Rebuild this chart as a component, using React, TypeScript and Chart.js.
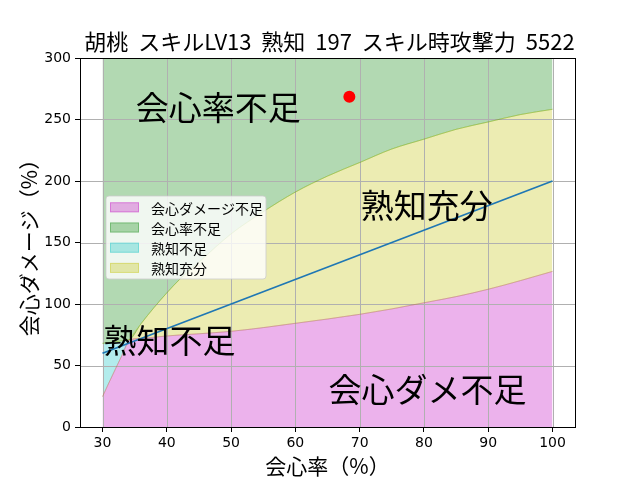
import React, { useEffect, useRef } from "react";
import { Chart, registerables } from "chart.js";

Chart.register(...registerables);

// ---- data ----
const titleText = "胡桃 スキルLV13 熟知 197 スキル時攻撃力 5522";
const xAxisLabel = "会心率（%）";
const yAxisLabel = "会心ダメージ（%）";

const xTicks = [30, 40, 50, 60, 70, 80, 90, 100];
const yTicks = [0, 50, 100, 150, 200, 250, 300];

const critRateSamples = [30, 31, 32, 33, 34.2, 36, 38, 40, 42, 45, 50, 55, 60, 65, 70, 75, 80, 85, 90, 95, 100];
// upper boundary (above: 会心率不足)
const critRateCurve = [24.7, 36, 47, 58, 71, 84, 97, 109, 120, 134, 157, 175, 191, 204, 215, 226, 234, 242, 248, 254, 258.3];
// lower boundary (below: 会心ダメージ不足)
const critDmgCurve = [68, 68.7, 69.3, 70, 71, 72, 73, 74, 74.8, 75.8, 77.8, 80.8, 84.3, 87.8, 91.6, 96, 101, 106, 112, 119, 126.5];

const ratioLineX = [30, 100];
const ratioLineY = [60, 200];

const currentX = [68.4];
const currentY = [268.5];

const legendLabels = ["会心ダメージ不足", "会心率不足", "熟知不足", "熟知充分"];

const regionLabels = ["会心率不足", "熟知充分", "熟知不足", "会心ダメ不足"];
const regionLabelX = [35, 70, 30, 65];
const regionLabelY = [250, 170, 60, 20];

// ---- styles ----
const PINK = "rgba(191,0,191,0.3)";
const GREEN = "rgba(0,128,0,0.3)";
const CYAN = "rgba(0,191,191,0.3)";
const YELLOW = "rgba(191,191,0,0.3)";
const legendColors = [PINK, GREEN, CYAN, YELLOW];
const CJK = '"Noto Sans CJK JP", "Noto Sans CJK SC", sans-serif';

const pts = (xs: number[], ys: number[]) => xs.map((x, i) => ({ x, y: ys[i] }));

export default function App() {
  const ref = useRef<HTMLCanvasElement | null>(null);

  useEffect(() => {
    if (!ref.current) return;
    const lo = critRateCurve.map((a, i) => Math.min(a, critDmgCurve[i]));
    const hi = critRateCurve.map((a, i) => Math.max(a, critDmgCurve[i]));

    const curveCommon = {
      pointRadius: 0,
      borderWidth: 1,
      cubicInterpolationMode: "monotone" as const,
    };

    const deco = {
      id: "deco",
      beforeDatasetsDraw(chart: any) {
        const { ctx, chartArea: a, scales } = chart;
        ctx.save();
        ctx.strokeStyle = "#b0b0b0";
        ctx.lineWidth = 1;
        ctx.beginPath();
        xTicks.forEach((v) => {
          const px = Math.round(scales.x.getPixelForValue(v)) + 0.5;
          ctx.moveTo(px, a.top);
          ctx.lineTo(px, a.bottom);
        });
        yTicks.forEach((v) => {
          const py = Math.round(scales.y.getPixelForValue(v)) + 0.5;
          ctx.moveTo(a.left, py);
          ctx.lineTo(a.right, py);
        });
        ctx.stroke();
        ctx.restore();
      },
      afterDatasetsDraw(chart: any) {
        const { ctx, chartArea: a, scales } = chart;
        ctx.save();
        // region labels
        ctx.fillStyle = "#000";
        ctx.font = `33px ${CJK}`;
        ctx.textAlign = "left";
        ctx.textBaseline = "alphabetic";
        regionLabels.forEach((t, i) => {
          ctx.fillText(t, scales.x.getPixelForValue(regionLabelX[i]) + 1, scales.y.getPixelForValue(regionLabelY[i]));
        });
        // legend
        const lx = 106, ly = 196, lw = 160, lh = 83, r = 3;
        ctx.beginPath();
        ctx.moveTo(lx + r, ly);
        ctx.arcTo(lx + lw, ly, lx + lw, ly + lh, r);
        ctx.arcTo(lx + lw, ly + lh, lx, ly + lh, r);
        ctx.arcTo(lx, ly + lh, lx, ly, r);
        ctx.arcTo(lx, ly, lx + lw, ly, r);
        ctx.closePath();
        ctx.fillStyle = "rgba(255,255,255,0.8)";
        ctx.fill();
        ctx.strokeStyle = "rgba(204,204,204,0.8)";
        ctx.lineWidth = 1;
        ctx.stroke();
        ctx.font = `14px ${CJK}`;
        ctx.textBaseline = "middle";
        legendLabels.forEach((t, i) => {
          const cy = 207.3 + i * 20.2;
          ctx.fillStyle = legendColors[i];
          ctx.fillRect(110, cy - 5, 29, 10);
          ctx.strokeStyle = legendColors[i];
          ctx.strokeRect(110.5, cy - 4.5, 28, 9);
          ctx.fillStyle = "#000";
          ctx.fillText(t, 151, cy + 1);
        });
        // frame
        ctx.strokeStyle = "#000";
        ctx.lineWidth = 1;
        ctx.strokeRect(Math.round(a.left) + 0.5, Math.round(a.top) + 0.5, Math.round(a.right - a.left), Math.round(a.bottom - a.top));
        ctx.restore();
      },
      afterDraw(chart: any) {
        const { ctx, chartArea: a } = chart;
        const cx = (a.left + a.right) / 2;
        ctx.save();
        ctx.fillStyle = "#000";
        ctx.textAlign = "center";
        ctx.textBaseline = "alphabetic";
        ctx.font = `22px ${CJK}`;
        (ctx as any).wordSpacing = "5px";
        ctx.fillText(titleText, cx + 2, 50);
        (ctx as any).wordSpacing = "0px";
        ctx.font = `21px ${CJK}`;
        ctx.fillText(xAxisLabel, cx, 474);
        ctx.translate(37, (a.top + a.bottom) / 2);
        ctx.rotate(-Math.PI / 2);
        ctx.fillText(yAxisLabel, 0, 0);
        ctx.restore();
      },
    };

    const chart = new Chart(ref.current, {
      type: "line",
      data: {
        datasets: [
          { label: legendLabels[0], data: pts(critRateSamples, lo), fill: "origin", backgroundColor: PINK, borderColor: PINK, order: 5, ...curveCommon },
          { label: legendLabels[1], data: pts(critRateSamples, hi), fill: "end", backgroundColor: GREEN, borderColor: GREEN, order: 4, ...curveCommon },
          { label: "lower", data: pts(critRateSamples, critDmgCurve), fill: false, borderColor: YELLOW, order: 3, ...curveCommon },
          { label: "upper", data: pts(critRateSamples, critRateCurve), fill: { target: 2, above: YELLOW, below: CYAN }, borderColor: YELLOW, order: 2, ...curveCommon },
          { label: "ratio", data: pts(ratioLineX, ratioLineY), fill: false, borderColor: "#1f77b4", borderWidth: 1.7, pointRadius: 0, order: 1 },
          { label: "current", type: "scatter", data: pts(currentX, currentY), backgroundColor: "#ff0000", borderColor: "#ff0000", pointRadius: 6, borderWidth: 0, order: 0 } as any,
        ],
      },
      options: {
        animation: false,
        responsive: false,
        devicePixelRatio: 1,
        layout: { padding: { left: 0, right: 65, top: 58, bottom: 0 } },
        plugins: {
          legend: { display: false },
          title: { display: false },
          tooltip: { enabled: false },
          filler: { propagate: false, drawTime: "beforeDatasetsDraw" } as any,
        },
        scales: {
          x: {
            type: "linear",
            min: 26.5,
            max: 103.5,
            afterBuildTicks: (s: any) => { s.ticks = xTicks.map((v) => ({ value: v })); },
            afterFit: (s: any) => { s.height = 53; },
            grid: { display: true, drawOnChartArea: false, drawTicks: true, tickLength: 5, tickColor: "#000", tickWidth: 1 },
            border: { display: true, color: "#000", width: 1 },
            ticks: { color: "#000", font: { family: "DejaVu Sans", size: 14 }, padding: 3, maxRotation: 0, autoSkip: false },
          },
          y: {
            type: "linear",
            min: 0,
            max: 300,
            afterBuildTicks: (s: any) => { s.ticks = yTicks.map((v) => ({ value: v })); },
            afterFit: (s: any) => { s.width = 80; },
            grid: { display: true, drawOnChartArea: false, drawTicks: true, tickLength: 5, tickColor: "#000", tickWidth: 1 },
            border: { display: true, color: "#000", width: 1 },
            ticks: { color: "#000", font: { family: "DejaVu Sans", size: 14 }, padding: 4, autoSkip: false },
          },
        },
      },
      plugins: [deco],
    });
    return () => chart.destroy();
  }, []);

  return (
    <div style={{ position: "fixed", left: 0, top: 0, width: 640, height: 480, background: "#fff" }}>
      <canvas ref={ref} width={640} height={480} style={{ display: "block" }} />
    </div>
  );
}
